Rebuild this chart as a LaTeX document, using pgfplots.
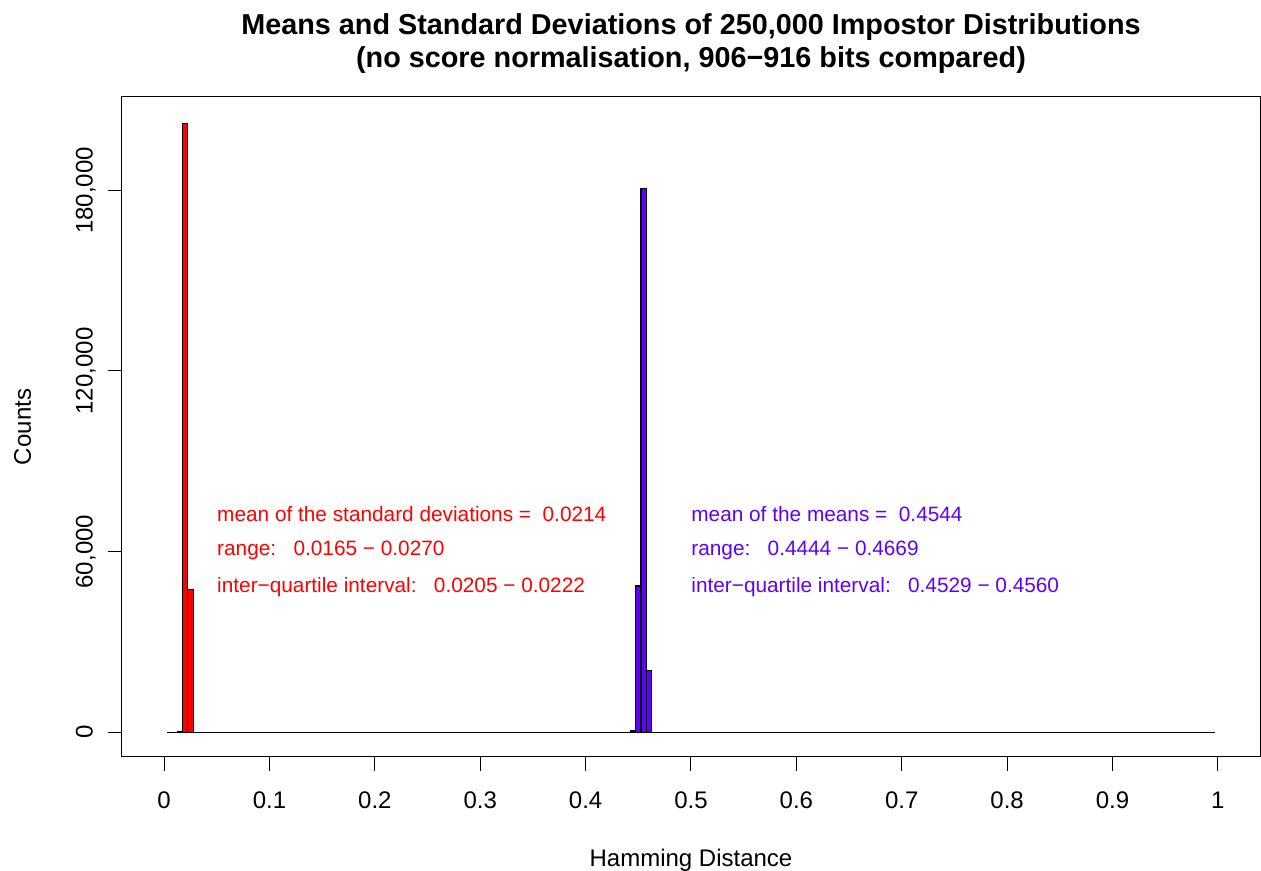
\documentclass[border=0pt]{standalone}
\usepackage{fontspec}
\setmainfont{Liberation Sans}
\usepackage{pgfplots}
\pgfplotsset{compat=1.18}
\definecolor{sdred}{RGB}{255,0,0}
\definecolor{meanblue}{RGB}{95,0,255}
\begin{document}
\begin{tikzpicture}
\begin{axis}[
  width=569pt, height=330pt, scale only axis,
  clip=false,
  xmin=-0.04, xmax=1.04, ymin=-8200, ymax=211000,
  axis line style={line width=0.5pt},
  xtick={0,0.1,0.2,0.3,0.4,0.5,0.6,0.7,0.8,0.9,1},
  xticklabels={0,0.1,0.2,0.3,0.4,0.5,0.6,0.7,0.8,0.9,1},
  ytick={0,60000,120000,180000},
  yticklabels={0,{60,000},{120,000},{180,000}},
  scaled y ticks=false,
  tick pos=left,
  tick align=outside,
  major tick length=7.2pt,
  tick style={black, line width=0.5pt},
  ticklabel style={font=\fontsize{12}{14}\selectfont},
  xticklabel style={anchor=north, inner sep=0pt},
  xticklabel shift=10pt,
  yticklabel style={rotate=90, anchor=base, inner sep=0pt},
  yticklabel shift=7.5pt,
  xlabel={Hamming Distance},
  ylabel={Counts},
  label style={font=\fontsize{12}{14}\selectfont},
  xlabel style={at={(axis description cs:0.5,-0.1661)}, anchor=base},
  ylabel style={at={(axis description cs:-0.0800,0.5)}, anchor=base},
]
% empty bins of both histograms
\addplot[black, line width=0.5pt] coordinates {(0.0025,0) (0.9975,0)};
% standard deviations, bins of width 0.005
\addplot[ybar, bar width=0.005, bar shift=0pt, fill=sdred, draw=black, line width=0.6pt]
  coordinates {(0.015,300) (0.020,202200) (0.025,47500)};
% means, bins of width 0.005
\addplot[ybar, bar width=0.005, bar shift=0pt, fill=meanblue, draw=black, line width=0.6pt]
  coordinates {(0.445,400) (0.450,48600) (0.455,180600) (0.460,20400)};

\begin{scope}[every node/.style={anchor=base west, inner sep=0pt, font=\fontsize{10.4}{12.5}\selectfont}]
\node[text=sdred] at (axis cs:0.05,70000) {mean of the standard deviations =~~0.0214};
\node[text=sdred] at (axis cs:0.05,58600) {range:~~~0.0165 − 0.0270};
\node[text=sdred] at (axis cs:0.05,46300) {inter−quartile interval:~~~0.0205 − 0.0222};
\node[text=meanblue] at (axis cs:0.5,70000) {mean of the means =~~0.4544};
\node[text=meanblue] at (axis cs:0.5,58600) {range:~~~0.4444 − 0.4669};
\node[text=meanblue] at (axis cs:0.5,46300) {inter−quartile interval:~~~0.4529 − 0.4560};
\end{scope}

\node[anchor=base, inner sep=0pt, font=\fontsize{14.4}{17}\selectfont\bfseries]
  at (axis description cs:0.5,1.0940) {Means and Standard Deviations of 250,000 Impostor Distributions};
\node[anchor=base, inner sep=0pt, font=\fontsize{14.4}{17}\selectfont\bfseries]
  at (axis description cs:0.5,1.0440) {(no score normalisation, 906−916 bits compared)};

\coordinate (bbsw) at (axis description cs:-0.10721,-0.17273);
\coordinate (bbne) at (axis description cs:1.00088,1.14697);
\end{axis}
\pgfresetboundingbox
\path (bbsw) rectangle (bbne);
\end{tikzpicture}
\end{document}
